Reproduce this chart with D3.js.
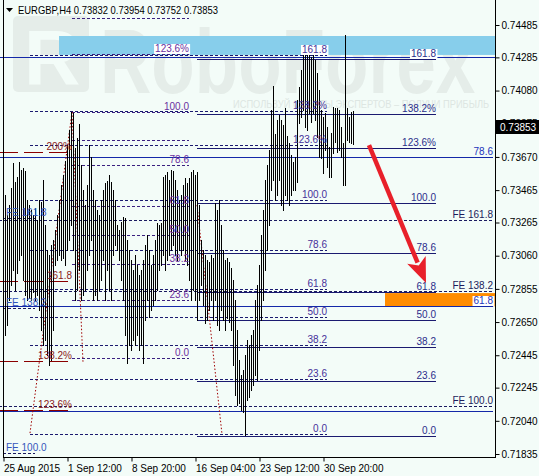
<!DOCTYPE html>
<html><head><meta charset="utf-8">
<script src="https://cdn.jsdelivr.net/npm/d3@7"></script>
<style>body{margin:0;background:#f3fcf8;} svg{display:block} text{font-family:"Liberation Sans",Arial,sans-serif;}</style>
</head><body><svg id="c" width="539" height="476"></svg>
<script>
// ---------------- DATA ----------------
const highs = [
0.73447,0.73434,0.73311,0.73373,0.73478,0.73632,0.73515,0.73546,0.73638,0.73589,
0.73601,0.73583,0.73404,0.73373,0.73342,0.73311,0.73354,0.73280,0.73404,0.73391,
0.73527,0.73249,0.73095,0.73064,0.73125,0.73156,0.73218,0.73311,0.73404,0.73496,
0.73558,0.73645,0.73743,0.73836,0.73948,0.73941,0.73725,0.73787,0.73873,0.73620,
0.73465,0.73373,0.73496,0.73743,0.73669,0.73465,0.73404,0.73342,0.73311,0.73404,
0.73465,0.73509,0.73521,0.73558,0.73515,0.73465,0.73404,0.73249,0.73218,0.73268,
0.73298,0.73292,0.73156,0.73095,0.73033,0.72971,0.73064,0.73002,0.72940,0.72971,
0.73033,0.73125,0.73187,0.73095,0.73002,0.73064,0.73156,0.73261,0.73249,0.73261,
0.73546,0.73558,0.73577,0.73527,0.73589,0.73583,0.73527,0.73465,0.73404,0.73434,
0.73496,0.73539,0.73509,0.73539,0.73577,0.73589,0.73558,0.73577,0.73373,0.73156,
0.73095,0.73064,0.73033,0.73020,0.73064,0.73045,0.73385,0.73342,0.73404,0.73249,
0.73095,0.73033,0.73045,0.73020,0.72983,0.72909,0.72786,0.72600,0.72415,0.72322,
0.72353,0.72446,0.72538,0.72507,0.72569,0.72600,0.72786,0.72878,0.73002,0.73187,
0.73342,0.73527,0.73620,0.73713,0.73960,0.74108,0.73811,0.73898,0.73929,0.73898,
0.73867,0.73972,0.73799,0.73756,0.73682,0.73638,0.73669,0.74022,0.74102,0.74207,
0.74312,0.74361,0.74300,0.74312,0.74287,0.74312,0.74269,0.74188,0.74083,0.73960,
0.73916,0.73941,0.73855,0.73731,0.73818,0.73978,0.73972,0.73972,0.73960,0.73855,
0.73756,0.74423,0.73972,0.73916,0.73947,0.73954];
const lows = [
0.72786,0.72569,0.72631,0.72786,0.72878,0.72971,0.72847,0.72952,0.73033,0.73064,
0.72909,0.72816,0.72786,0.72798,0.72786,0.72835,0.72786,0.72816,0.72724,0.72600,
0.72507,0.72538,0.72446,0.72384,0.72415,0.72600,0.73002,0.73033,0.73064,0.73033,
0.73045,0.73002,0.73095,0.73156,0.73249,0.73095,0.72786,0.72847,0.72971,0.72786,
0.72816,0.72847,0.72971,0.73064,0.73156,0.72786,0.72816,0.72786,0.72847,0.72909,
0.73033,0.72786,0.72971,0.72847,0.72786,0.73064,0.73125,0.73095,0.73033,0.72909,
0.72786,0.72569,0.72396,0.72507,0.72477,0.72538,0.72507,0.72569,0.72477,0.72507,
0.72396,0.72662,0.72786,0.72680,0.72724,0.72755,0.72786,0.72847,0.72971,0.73002,
0.73064,0.72971,0.73033,0.73064,0.73095,0.73125,0.73064,0.73033,0.73095,0.73064,
0.73095,0.73033,0.73002,0.72909,0.72786,0.72847,0.72786,0.72662,0.72786,0.72878,
0.72755,0.72643,0.72662,0.72724,0.72786,0.72662,0.72786,0.72631,0.72600,0.72724,
0.72662,0.72600,0.72674,0.72650,0.72600,0.72384,0.72198,0.72137,0.72149,0.72106,
0.72093,0.71952,0.72168,0.72186,0.72229,0.72260,0.72322,0.72291,0.72477,0.72662,
0.72786,0.72971,0.73095,0.73249,0.73465,0.73527,0.73404,0.73434,0.73527,0.73373,
0.73342,0.73434,0.73404,0.73373,0.73434,0.73465,0.73465,0.73515,0.73879,0.73916,
0.73960,0.73855,0.73836,0.73941,0.73886,0.73941,0.73898,0.73793,0.73669,0.73663,
0.73570,0.73713,0.73607,0.73546,0.73546,0.73694,0.73762,0.73700,0.73713,0.73669,
0.73496,0.73496,0.73774,0.73762,0.73756,0.73752];
const quote = ["EURGBP,H4", 0.73832, 0.73954, 0.73752, 0.73853]; // symbol, O, H, L, C
const priceTicks = [0.74485,0.74285,0.74080,0.73875,0.73670,0.73465,0.73265,0.73060,0.72855,0.72650,0.72445,0.72245,0.72040,0.71835];
const timeTickBars = [0,32,64,96,128,160];
const timeTickLabels = ["25 Aug 2015","1 Sep 12:00","8 Sep 20:00","16 Sep 04:00","23 Sep 12:00","30 Sep 20:00"];

// Fibonacci retracement sets: [bar start, bar end], [price at 0%, price at 100%]
const retLevels = [0,23.6,38.2,50,61.8,78.6,100,123.6,138.2,161.8];
const retLabels = ["0.0","23.6","38.2","50.0","61.8","78.6","100.0","123.6%","138.2%","161.8"];
const fibALevels = [0,23.6,38.2,50,61.8,78.6,88.6,100,123.6,138.2];
const fibALabels = ["0.0","23.6","38.2","50.0","61.8","78.6","","100.0","123.6%",""];
const fibABars = [34.5,93]; const fibAPrices = [0.72428,0.73948];
const fibBBars = [97,216.5]; const fibBPrices = [0.71946,0.73385];
const fibCBars = [13.5,162]; const fibCPrices = [0.71957,0.73404];
const fibDLevels = [50,61.8,78.6]; const fibDLabels = ["","61.8","78.6"];
const fibDBars = [-2,245]; const fibDPrices = [0.69356,0.74844];
// Fibonacci expansions
const feLevels = [100,138.2,161.8]; const feLabels = ["FE 100.0","FE 138.2","FE 161.8"];
const feRightBars = [-2,245]; const feRightPrices = [0.70270,0.72130];
const feLeftBars = [0,16]; const feLeftPrices = [0.69494,0.71840];
const redLevels = [123.6,138.2,161.8,200]; const redLabels = ["123.6%","138.2%","161.8","200%"];
const redBars = [-2,34.5]; const redPrices = [0.69523,0.71612];
const hLinePrices = [0.74285];
// anchor trend lines (bar, price)
const dotted1 = [[13.5,0.71964],[34.5,0.73948]];
const dotted2 = [[34.5,0.73948],[40,0.72402]];
const dotted3 = [[97,0.73373],[109.5,0.71957]];
const arrowPts = [[183,0.73743],[211.5,0.72891]];
const blueZoneBars = [28,246]; const blueZonePrices = [0.74300,0.74417];
const orangeZoneBars = [191,246]; const orangeZonePrices = [0.72748,0.72829];

// ---------------- DRAW ----------------
const W=539,H=476;
const x = d3.scaleLinear().domain([0,246]).range([3,495]);
const y = d3.scaleLinear().domain([0.71835,0.74485]).range([454,25]);
const svg = d3.select("#c");
svg.append("defs").append("clipPath").attr("id","clip").append("rect")
  .attr("x",0).attr("y",0).attr("width",495).attr("height",457);
svg.append("rect").attr("width",W).attr("height",H).attr("fill","#f3fcf8");
const g = svg.append("g").attr("clip-path","url(#clip)");

// watermark
const wm = g.append("g").attr("fill","#e5ede9");
wm.append("rect").attr("x",13).attr("y",16).attr("width",76).attr("height",76).attr("rx",5);
wm.append("text").attr("x",24).attr("y",84).attr("font-size",78).attr("font-weight","bold").attr("fill","#f3fcf8").text("R");
wm.append("text").attr("transform","translate(100,93) scale(0.79,1)").attr("font-size",90).attr("font-weight","bold").text("RoboForex");
wm.append("text").attr("transform","translate(233,108) scale(0.93,1)").attr("font-size",10).attr("fill","#dde6e2")
  .text("ИСПОЛЬЗУЙ СОВЕТЫ ЭКСПЕРТОВ – ПОЛУЧИ ПРИБЫЛЬ");

// zones
const zones = [
  {bars:blueZoneBars, prices:blueZonePrices, color:"#87ceeb"},
  {bars:orangeZoneBars, prices:orangeZonePrices, color:"#ff8c00"}];
zones.forEach(z=>{
  g.append("rect").attr("x",x(z.bars[0])).attr("width",x(z.bars[1])-x(z.bars[0]))
   .attr("y",y(z.prices[1])).attr("height",y(z.prices[0])-y(z.prices[1])).attr("fill",z.color);
});

const linesG = g.append("g").attr("shape-rendering","crispEdges");
const labelQueue = [];
function drawSet(levels, labels, bars, prices, st){
  levels.forEach((lv,k)=>{
    const p = prices[0] + (prices[1]-prices[0])*lv/100;
    const yy = Math.round(y(p))+0.5;
    linesG.append("line").attr("x1",x(bars[0])).attr("x2",x(bars[1])).attr("y1",yy).attr("y2",yy)
      .attr("stroke",st.line).attr("stroke-width",1).attr("stroke-dasharray",st.dash||null);
    if(labels[k]) labelQueue.push({t:labels[k], x: st.anchor==="start"? x(bars[0])+3 : (st.labelX!==undefined? st.labelX : x(bars[1])), y:yy, anchor:st.anchor||"end", color:st.text});
  });
}
drawSet(redLevels, redLabels, redBars, redPrices, {line:"#8b0000", dash:"19,6", text:"#8b1a1a"});
drawSet(fibDLevels, fibDLabels, fibDBars, fibDPrices, {line:"#1428a8", text:"#2233bb", labelX:493});
hLinePrices.forEach(p=>{ const yy=Math.round(y(p))+0.5;
  linesG.append("line").attr("x1",0).attr("x2",495).attr("y1",yy).attr("y2",yy).attr("stroke","#1428a8"); });
drawSet(feLevels, feLabels, feRightBars, feRightPrices, {line:"#1a1a60", dash:"3,2", text:"#1c1c5c", labelX:493});
drawSet(feLevels, feLabels, feLeftBars, feLeftPrices, {line:"#1a1a60", dash:"3,2", text:"#3355bb", anchor:"start"});
drawSet(retLevels, retLabels, fibCBars, fibCPrices, {line:"#1a1a70", dash:"3,2", text:"#46309a"});
drawSet(fibALevels, fibALabels, fibABars, fibAPrices, {line:"#3a2080", dash:"3,2", text:"#6b2fa0"});
drawSet(retLevels, retLabels, fibBBars, fibBPrices, {line:"#1a1a70", text:"#2b2d8a"});

// dotted anchor lines
const lineGen = d3.line().x(d=>x(d[0])).y(d=>y(d[1]));
[dotted1,dotted2,dotted3].forEach(d=>{
  g.append("path").attr("d",lineGen(d)).attr("fill","none").attr("stroke","#a00000")
   .attr("stroke-width",1).attr("stroke-dasharray","1.5,2");
});

// bars
const barsG = g.append("g").attr("shape-rendering","crispEdges");
highs.forEach((h,i)=>{
  const xx = Math.round(x(i))+0.5;
  barsG.append("line").attr("x1",xx).attr("x2",xx).attr("y1",Math.round(y(h))).attr("y2",Math.round(y(lows[i]))+1)
    .attr("stroke","#000").attr("stroke-width",1);
});

// labels
const labelsG = g.append("g");
labelQueue.forEach(L=>{
  const t = labelsG.append("text").attr("x",L.x).attr("y",L.y-2.5).attr("text-anchor",L.anchor)
    .attr("fill",L.color).attr("font-size",10).text(L.t);
  const bb = t.node().getBBox();
  const hit = zones.some(z=>{
    const zx0=x(z.bars[0]), zx1=x(z.bars[1]), zy0=y(z.prices[1]), zy1=y(z.prices[0]);
    return bb.x<zx1 && bb.x+bb.width>zx0 && bb.y<zy1 && bb.y+bb.height>zy0;});
  if(hit) labelsG.insert("rect",()=>t.node()).attr("x",bb.x-1).attr("y",bb.y+1).attr("width",bb.width+2).attr("height",bb.height-1).attr("fill","#fff");
});

// arrow
const a0=[x(arrowPts[0][0]),y(arrowPts[0][1])], a1=[x(arrowPts[1][0]),y(arrowPts[1][1])];
const dx=a1[0]-a0[0], dy=a1[1]-a0[1], len=Math.hypot(dx,dy), ux=dx/len, uy=dy/len;
const hl=25, hw=10;
const base=[a1[0]-ux*hl, a1[1]-uy*hl];
g.append("line").attr("x1",a0[0]).attr("y1",a0[1]).attr("x2",base[0]+ux*3).attr("y2",base[1]+uy*3)
  .attr("stroke","#e8202a").attr("stroke-width",4.5);
g.append("path").attr("d",`M${a1[0]},${a1[1]}L${base[0]-uy*hw},${base[1]+ux*hw}L${base[0]+ux*6},${base[1]+uy*6}L${base[0]+uy*hw},${base[1]-ux*hw}Z`)
  .attr("fill","#e8202a");

// frame
const fr = svg.append("g").attr("stroke","#000").attr("shape-rendering","crispEdges");
fr.append("line").attr("x1",3.5).attr("x2",3.5).attr("y1",0).attr("y2",457);
fr.append("line").attr("x1",495.5).attr("x2",495.5).attr("y1",0).attr("y2",458);
fr.append("line").attr("x1",3).attr("x2",496).attr("y1",457.5).attr("y2",457.5);

// axes
const yAxis = d3.axisRight(y).tickValues(priceTicks).tickSize(4).tickPadding(2).tickFormat(d3.format(".5f"));
svg.append("g").attr("transform","translate(495.5,0)").call(yAxis)
  .call(s=>s.select(".domain").remove())
  .call(s=>s.selectAll("text").attr("font-family","Liberation Sans, Arial, sans-serif").attr("font-size",10).attr("fill","#000"));
const xAxis = d3.axisBottom(x).tickValues(timeTickBars).tickSize(4).tickPadding(3).tickFormat((d,i)=>timeTickLabels[i]);
svg.append("g").attr("transform","translate(0.5,457.5)").call(xAxis)
  .call(s=>s.select(".domain").remove())
  .call(s=>s.selectAll("text").attr("text-anchor","start").attr("x",0).attr("font-family","Liberation Sans, Arial, sans-serif").attr("font-size",10).attr("fill","#000"));

// current price box
const cy = y(quote[4]);
svg.append("rect").attr("x",496).attr("y",Math.round(cy)-7).attr("width",43).attr("height",14).attr("fill","#000");
svg.append("text").attr("x",500).attr("y",cy+3.5).attr("font-size",10).attr("fill","#fff").text(d3.format(".5f")(quote[4]));

// title
svg.append("path").attr("d","M6,8L13,8L9.5,12Z").attr("fill","#000");
svg.append("text").attr("x",18).attr("y",14).attr("font-size",10.5).attr("fill","#000")
  .attr("textLength",200).attr("lengthAdjust","spacingAndGlyphs")
  .text(quote[0]+"  "+quote.slice(1).map(d3.format(".5f")).join(" "));
</script></body></html>
